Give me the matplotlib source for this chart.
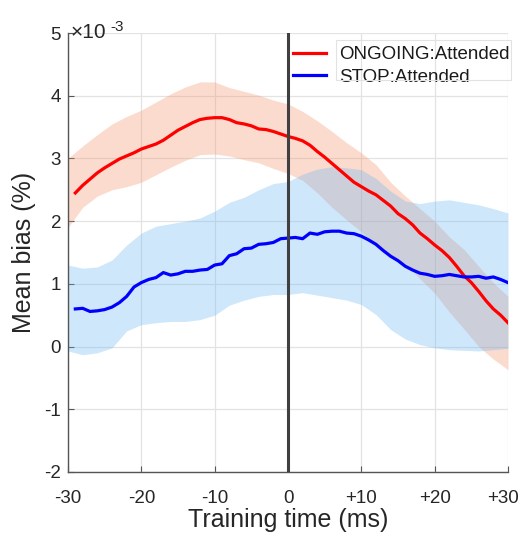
import numpy as np
import matplotlib
matplotlib.use("Agg")
import matplotlib.pyplot as plt
from matplotlib.patches import Rectangle
from matplotlib.transforms import ScaledTranslation

plt.rcParams['font.family'] = ['Liberation Sans', 'DejaVu Sans']

# ---- data (values in units of 1e-3) ----
line_x = list(range(-29, 31))
ongoing_mean = [2.45, 2.57, 2.67, 2.77, 2.85, 2.92, 2.99, 3.04, 3.09, 3.15,
                3.19, 3.23, 3.29, 3.37, 3.45, 3.51, 3.57, 3.62, 3.64, 3.65,
                3.65, 3.62, 3.57, 3.55, 3.52, 3.47, 3.46, 3.43, 3.39, 3.35,
                3.32, 3.28, 3.21, 3.11, 3.02, 2.92, 2.82, 2.72, 2.62, 2.55,
                2.48, 2.42, 2.33, 2.24, 2.12, 2.04, 1.94, 1.81, 1.72, 1.62,
                1.53, 1.42, 1.28, 1.13, 1.02, 0.88, 0.73, 0.60, 0.50, 0.38]
stop_mean = [0.60, 0.61, 0.56, 0.57, 0.59, 0.63, 0.70, 0.80, 0.95, 1.02,
             1.07, 1.10, 1.18, 1.14, 1.16, 1.20, 1.20, 1.22, 1.23, 1.30,
             1.32, 1.45, 1.48, 1.56, 1.57, 1.63, 1.64, 1.66, 1.72, 1.73,
             1.74, 1.72, 1.81, 1.79, 1.83, 1.84, 1.84, 1.81, 1.80, 1.76,
             1.70, 1.63, 1.53, 1.44, 1.37, 1.28, 1.22, 1.17, 1.15, 1.12,
             1.13, 1.15, 1.13, 1.11, 1.11, 1.12, 1.09, 1.11, 1.07, 1.02]

band_x = list(range(-30, 31, 2))
ongoing_upper = [3.00, 3.20, 3.38, 3.55, 3.67, 3.77, 3.90, 4.03, 4.14, 4.22,
                 4.22, 4.13, 4.07, 4.01, 3.93, 3.87, 3.75, 3.60, 3.43, 3.25,
                 3.09, 2.90, 2.62, 2.40, 2.20, 2.00, 1.75, 1.55, 1.28, 1.02, 0.80]
ongoing_lower = [1.90, 2.22, 2.40, 2.50, 2.55, 2.62, 2.74, 2.86, 2.97, 3.06,
                 3.07, 3.04, 2.98, 2.93, 2.84, 2.76, 2.65, 2.45, 2.22, 2.02,
                 1.83, 1.60, 1.45, 1.32, 1.08, 0.85, 0.55, 0.28, 0.00, -0.20, -0.37]
stop_upper = [1.30, 1.25, 1.27, 1.38, 1.62, 1.81, 1.92, 1.96, 2.00, 2.05,
              2.16, 2.30, 2.38, 2.50, 2.60, 2.63, 2.75, 2.83, 2.87, 2.85,
              2.82, 2.68, 2.48, 2.32, 2.28, 2.32, 2.34, 2.30, 2.26, 2.20, 2.13]
stop_lower = [-0.07, -0.13, -0.10, -0.02, 0.25, 0.35, 0.38, 0.40, 0.40, 0.43,
              0.50, 0.66, 0.74, 0.80, 0.83, 0.83, 0.86, 0.82, 0.78, 0.74,
              0.67, 0.51, 0.27, 0.12, 0.03, -0.02, -0.05, -0.06, -0.07, -0.05, -0.03]

x_ticks = [-30, -20, -10, 0, 10, 20, 30]
x_ticklabels = ['-30', '-20', '-10', '0', '+10', '+20', '+30']
y_ticks = [-2, -1, 0, 1, 2, 3, 4, 5]
y_ticklabels = ['-2', '-1', '0', '1', '2', '3', '4', '5']
series_names = ['ONGOING:Attended', 'STOP:Attended']

W, H = 520, 533
fig = plt.figure(figsize=(W / 100, H / 100), dpi=100)
ax = fig.add_axes([68 / W, 1 - 472 / H, 440 / W, 439 / H])

red_fill = (245 / 255, 146 / 255, 105 / 255)
blue_fill = (105 / 255, 183 / 255, 242 / 255)
ax.fill_between(band_x, ongoing_lower, ongoing_upper, color=red_fill,
                alpha=0.32, linewidth=0, zorder=1)
ax.fill_between(band_x, stop_lower, stop_upper, color=blue_fill,
                alpha=0.32, linewidth=0, zorder=2)

l1, = ax.plot(line_x, ongoing_mean, color='#ff0000', lw=2.3, zorder=4)
l2, = ax.plot(line_x, stop_mean, color='#0000ff', lw=2.3, zorder=4)
ax.axvline(0, color='#404040', lw=2.2, zorder=5)

ax.set_xlim(-30, 30)
ax.set_ylim(-2, 5)
ax.set_xticks(x_ticks)
ax.set_xticklabels(x_ticklabels)
ax.set_yticks(y_ticks)
ax.set_yticklabels(y_ticklabels)
ax.grid(True, color='#e3e3e3', lw=0.9, zorder=0)
ax.set_axisbelow(True)
for s in ['top', 'right']:
    ax.spines[s].set_visible(False)
for s in ['left', 'bottom']:
    ax.spines[s].set_color('#555555')
    ax.spines[s].set_linewidth(1.0)
ax.tick_params(axis='both', direction='in', length=4, width=0.8,
               color='#555555', labelsize=13.5, labelcolor='#262626')
ax.tick_params(axis='x', pad=13)
ax.tick_params(axis='y', pad=5)

# keep the last x tick label inside the figure (as in the reference)
last = ax.get_xticklabels()[-1]
last.set_transform(last.get_transform() +
                   ScaledTranslation(-5 / 100, 0, fig.dpi_scale_trans))

ax.set_xlabel('Training time (ms)', fontsize=18, color='#262626')
ax.set_ylabel('Mean bias (%)', fontsize=18, color='#262626')
ax.xaxis.set_label_coords(0.5, -0.083)
ax.yaxis.set_label_coords(-0.073, 0.5)

# exponent label
fig.text(71 / W, 1 - 38 / H, '\u00d710', fontsize=15, color='#262626',
         ha='left', va='baseline')
fig.text(110 / W, 1 - 31 / H, '-3', fontsize=11, color='#262626',
         ha='left', va='baseline')

leg = ax.legend([l1, l2], series_names, loc='upper left',
                bbox_to_anchor=((293 - 68) / 440, (472 - 46) / 439),
                frameon=False, fontsize=13.5, handlelength=1.75,
                handletextpad=0.7, labelspacing=0.3, borderpad=0.0,
                borderaxespad=0.0)
for t in leg.get_texts():
    t.set_color('#1a1a1a')
fig.patches.append(Rectangle((336 / W, 1 - 80 / H), 175 / W, 40 / H,
                             transform=fig.transFigure, fill=False,
                             edgecolor='#e2e2e2', lw=0.8))

fig.savefig('out.png', dpi=100)
